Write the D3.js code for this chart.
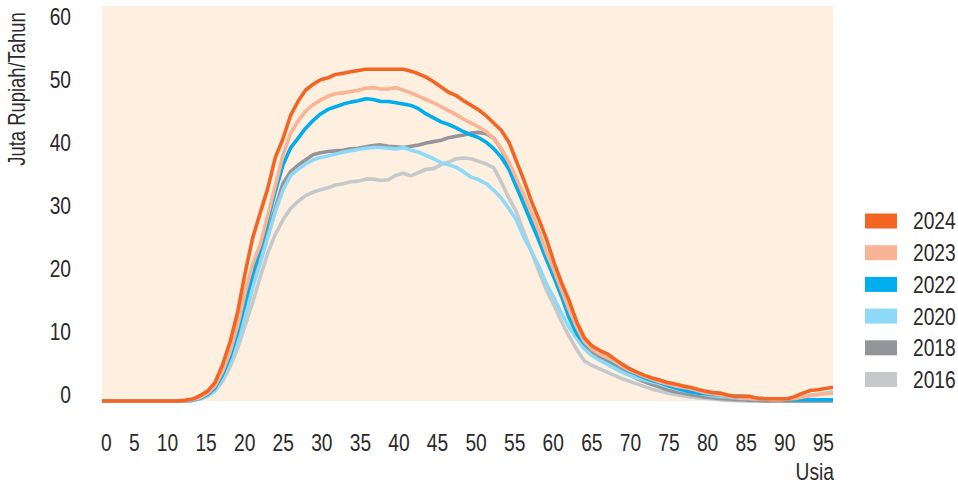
<!DOCTYPE html>
<html><head><meta charset="utf-8">
<script src="https://cdn.jsdelivr.net/npm/d3@7"></script>
<style>
html,body{margin:0;padding:0;background:#fff;}
svg{display:block;}
text{font-family:"Liberation Sans",Arial,sans-serif;fill:#2a2a2a;}
</style></head><body>
<svg id="chart" width="958" height="486"></svg>
<script>
// ---- data ----
const ages = [0,1,2,3,4,5,6,7,8,9,10,11,12,13,14,15,16,17,18,19,20,21,22,23,24,25,26,27,28,29,
  30,31,32,33,34,35,36,37,38,39,40,41,42,43,44,45,46,47,48,49,50,51,52,53,54,55,56,57,58,59,
  60,61,62,63,64,65,66,67,68,69,70,71,72,73,74,75,76,77,78,79,80,81,82,83,84,85,86,87,88,89,
  90,91,92,93,94,95,96,97];
const xTickValues = [0,5,10,15,20,25,30,35,40,45,50,55,60,65,70,75,80,85,90,95];
const yTickValues = [0,10,20,30,40,50,60];
const years = ["2024","2023","2022","2020","2018","2016"];
const yearColors = ["#f26522","#f9b395","#00aeef","#8ed8f8","#939598","#c7c8ca"];

const v2024 = [0,0,0,0,0,0,0,0,0,0,
  0,0.1,0.3,0.8,1.5,2.8,5.5,9.0,13.5,19.5,
  24.8,28.6,32.3,37.0,39.8,43.3,45.5,47.2,48.1,48.8,
  49.1,49.6,49.8,50.0,50.2,50.4,50.4,50.4,50.4,50.4,
  50.4,50.1,49.7,49.2,48.5,47.7,46.9,46.4,45.6,44.9,
  44.2,43.3,42.2,41.1,39.3,36.4,33.5,30.3,27.5,24.5,
  21.0,17.9,15.2,12.0,9.6,8.4,7.7,7.2,6.4,5.6,
  4.9,4.4,3.9,3.5,3.2,2.8,2.6,2.3,2.1,1.8,
  1.5,1.3,1.2,0.9,0.7,0.7,0.7,0.4,0.35,0.35,
  0.35,0.35,0.7,1.2,1.6,1.7,1.9,2.1];
const v2023 = [0,0,0,0,0,0,0,0,0,0,
  0,0,0.2,0.5,1.2,2.3,4.5,7.5,11.5,16.5,
  20.8,23.8,28.2,32.7,37.3,40.6,42.5,44.0,45.0,45.7,
  46.3,46.7,46.8,47.0,47.2,47.5,47.6,47.4,47.4,47.6,
  47.2,46.8,46.3,45.8,45.3,44.7,44.1,43.5,42.8,42.2,
  41.6,40.9,39.8,38.3,36.3,33.8,31.2,28.5,25.7,22.5,
  19.8,16.8,13.8,11.2,9.0,7.9,7.2,6.6,6.0,5.3,
  4.7,4.2,3.7,3.3,2.9,2.6,2.3,2.1,1.9,1.6,
  1.3,1.1,0.9,0.8,0.6,0.5,0.4,0.3,0.3,0.2,
  0.2,0.3,0.4,0.6,0.8,1.0,1.1,1.2];
const v2022 = [0,0,0,0,0,0,0,0,0,0,
  0,0,0.1,0.4,1.0,2.0,4.0,6.8,10.5,15.0,
  19.5,23.2,27.5,31.8,35.8,38.4,39.9,41.4,42.6,43.6,
  44.3,44.7,45.1,45.4,45.6,45.9,45.8,45.5,45.5,45.3,
  45.1,44.9,44.4,43.6,43.0,42.4,42.0,41.5,40.9,40.4,
  40.0,39.3,38.3,37.0,35.2,32.5,29.8,27.0,24.3,21.4,
  18.7,15.8,12.6,10.2,8.7,7.9,7.3,6.5,5.8,5.2,
  4.6,4.0,3.5,3.1,2.8,2.4,2.0,1.7,1.4,1.2,
  1.1,1.0,0.9,0.8,0.7,0.7,0.6,0.4,0.35,0.35,
  0.3,0.25,0.2,0.2,0.2,0.2,0.2,0.2];
const v2020 = [0,0,0,0,0,0,0,0,0,0,
  0,0,0.1,0.3,0.8,1.7,3.5,6.0,9.0,13.0,
  17.2,21.0,24.8,28.8,32.0,34.2,35.2,36.0,36.6,37.0,
  37.2,37.5,37.8,38.0,38.2,38.4,38.5,38.5,38.4,38.3,
  38.5,38.1,37.8,37.3,36.8,36.2,35.9,35.5,34.8,34.0,
  33.6,33.0,32.0,30.8,29.2,27.5,24.8,22.7,20.4,17.7,
  15.6,13.3,11.2,9.5,7.9,6.9,6.2,5.6,5.0,4.4,
  3.9,3.5,3.2,2.9,2.6,2.2,1.9,1.6,1.4,1.2,
  1.0,0.8,0.7,0.6,0.5,0.4,0.4,0.3,0.3,0.3,
  0.3,0.4,0.5,0.7,0.9,1.0,1.2,1.4];
const v2018 = [0,0,0,0,0,0,0,0,0,0,
  0,0,0.2,0.6,1.3,2.3,4.2,6.8,10.0,14.0,
  18.0,22.0,25.8,29.3,33.0,34.8,35.8,36.6,37.4,37.7,
  37.9,38.0,38.1,38.3,38.4,38.6,38.8,38.9,38.7,38.6,
  38.5,38.7,38.9,39.2,39.4,39.6,40.0,40.2,40.4,40.7,
  40.8,40.6,39.9,38.2,35.8,33.0,30.5,27.5,24.8,21.9,
  19.2,16.5,13.6,10.8,8.5,7.3,6.6,5.9,5.2,4.6,
  4.0,3.4,2.9,2.5,2.1,1.7,1.4,1.2,1.0,0.8,
  0.6,0.5,0.4,0.3,0.2,0.2,0.1,0.1,0,0,
  0,0,0,0,0,0,0,0];
const v2016 = [0,0,0,0,0,0,0,0,0,0,
  0,0,0.1,0.3,0.7,1.5,3.0,5.2,8.0,11.5,
  15.0,18.8,22.5,25.3,27.5,29.2,30.3,31.2,31.7,32.1,
  32.4,32.8,33.0,33.3,33.4,33.7,33.7,33.5,33.6,34.3,
  34.6,34.2,34.7,35.2,35.3,35.9,36.3,36.8,36.9,36.8,
  36.4,36.0,35.4,33.2,30.8,28.7,25.6,22.7,19.6,16.8,
  14.5,12.0,9.8,7.8,6.1,5.4,4.9,4.4,3.9,3.4,
  3.0,2.6,2.2,1.8,1.5,1.2,1.0,0.8,0.6,0.5,
  0.4,0.3,0.2,0.1,0.1,0,0,0,0,0,
  0,0,0,0,0,0,0,0];
const seriesValues = [v2024, v2023, v2022, v2020, v2018, v2016];

// ---- layout ----
const svg = d3.select("#chart");
const plot = {left: 102, right: 833, top: 6, bottom: 401};
const narrow = 0.8; // condensed look for the type
const x = d3.scaleLinear().domain([0, 97]).range([plot.left, plot.right]);
const y = d3.scaleLinear().domain([0, 60]).range([plot.bottom, plot.top]);

svg.append("rect")
  .attr("x", x(0)).attr("y", y(60))
  .attr("width", x(97) - x(0)).attr("height", y(0) - y(60))
  .attr("fill", "#fdf0e1");

// lines (draw oldest first, 2024 on top)
const line = d3.line().x((d, i) => x(ages[i])).y(d => y(d));
const order = d3.range(years.length).reverse();
svg.append("g").selectAll("path").data(order).join("path")
  .attr("d", i => line(seriesValues[i]))
  .attr("fill", "none")
  .attr("stroke", i => yearColors[i])
  .attr("stroke-width", 3.6)
  .attr("stroke-linejoin", "round");

// y axis labels, distributed evenly along the plot height
const yLab = d3.scalePoint().domain(yTickValues.map(String)).range([394, 16.5]);
const yAxis = svg.append("g").attr("transform", "translate(71,0)")
  .call(d3.axisLeft(yLab).tickSize(0).tickPadding(0));
yAxis.attr("font-family", null).attr("font-size", null);
yAxis.select(".domain").remove();
yAxis.selectAll("text").attr("x", 0).attr("font-size", 24).attr("dy", "0.35em")
  .attr("fill", "#2a2a2a").attr("transform", `scale(${narrow},1)`);

// x axis labels, spread edge-to-edge with equal gaps
const xAxis = svg.append("g").attr("transform", "translate(0,443)")
  .call(d3.axisBottom(x).tickValues(xTickValues).tickSize(0).tickPadding(0));
xAxis.attr("font-family", null).attr("font-size", null);
xAxis.select(".domain").remove();
xAxis.selectAll("text").attr("font-size", 24).attr("dy", "0.35em").attr("y", 0)
  .attr("fill", "#2a2a2a").attr("transform", `scale(${narrow},1)`);
(function spread() {
  const ticks = xAxis.selectAll(".tick").nodes();
  const widths = ticks.map(t => t.querySelector("text").getComputedTextLength() * narrow);
  const L = 101, R = 834;
  const gap = (R - L - d3.sum(widths)) / (ticks.length - 1);
  let cur = L;
  ticks.forEach((t, i) => {
    const cx = cur + widths[i] / 2;
    d3.select(t).attr("transform", `translate(${cx},0)`);
    cur += widths[i] + gap;
  });
})();

// axis titles
svg.append("g").attr("transform", "translate(17,89) rotate(-90)")
  .append("text").attr("transform", `scale(${narrow},1)`)
  .attr("text-anchor", "middle").attr("dy", "0.35em").attr("font-size", 23)
  .text("Juta Rupiah/Tahun");
svg.append("g").attr("transform", "translate(834,472)")
  .append("text").attr("transform", `scale(${narrow},1)`).attr("text-anchor", "end")
  .attr("dy", "0.35em").attr("font-size", 24).text("Usia");

// legend
const legend = svg.append("g").attr("transform", "translate(865,221)");
const lg = legend.selectAll("g").data(years).join("g")
  .attr("transform", (d, i) => `translate(0,${i * 31.7})`);
lg.append("rect").attr("x", 0).attr("y", -7.5).attr("width", 32).attr("height", 15)
  .attr("fill", (d, i) => yearColors[i]);
lg.append("g").attr("transform", "translate(48,0)")
  .append("text").attr("transform", `scale(${narrow},1)`)
  .attr("dy", "0.35em").attr("font-size", 24).text(d => d);
</script>
</body></html>
